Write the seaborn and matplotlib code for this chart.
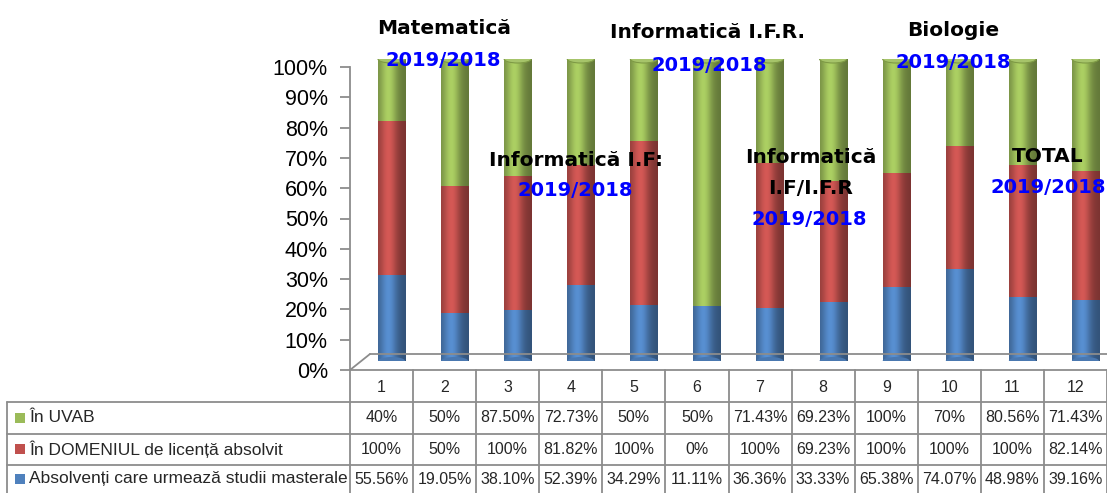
import numpy as np
import pandas as pd
import matplotlib
matplotlib.use("Agg")
import matplotlib.pyplot as plt
import matplotlib.transforms as mtransforms
from matplotlib.patches import Ellipse, Rectangle
from matplotlib.lines import Line2D
import seaborn as sns

# ---------------- data ----------------
categories = ["1", "2", "3", "4", "5", "6", "7", "8", "9", "10", "11", "12"]
series_names = ["În UVAB", "În DOMENIUL de licență absolvit",
                "Absolvenți care urmează studii masterale"]
in_uvab = [40, 50, 87.50, 72.73, 50, 50, 71.43, 69.23, 100, 70, 80.56, 71.43]
in_domeniu = [100, 50, 100, 81.82, 100, 0, 100, 69.23, 100, 100, 100, 82.14]
masterale = [55.56, 19.05, 38.10, 52.39, 34.29, 11.11, 36.36, 33.33, 65.38, 74.07, 48.98, 39.16]
y_ticks = [0, 10, 20, 30, 40, 50, 60, 70, 80, 90, 100]
annot_titles = ["Matematică", "Informatică I.F.R.", "Informatică I.F:",
                "Informatică\nI.F/I.F.R", "Biologie", "TOTAL"]
annot_year = "2019/2018"

GREEN = "#9BBB59"
RED = "#C0504D"
BLUE = "#4F81BD"
GRID = "#8C8C8C"

df = pd.DataFrame({"cat": categories, "uvab": in_uvab,
                   "dom": in_domeniu, "mast": masterale})
tot = df["uvab"] + df["dom"] + df["mast"]
df["top_blue"] = df["mast"] / tot
df["top_red"] = (df["mast"] + df["dom"]) / tot
df["top_green"] = 1.0

W, H = 1107, 493
fig = plt.figure(figsize=(W / 100, H / 100), dpi=100)
sns.set_style("white")
plt.rcParams["font.family"] = ["Liberation Sans", "DejaVu Sans"]

def fy(py):
    return 1 - py / H

# axis frame (ticks, spine, floor)
ax_axis = fig.add_axes([350 / W, fy(370), 757 / W, 303 / H])
ax_axis.set_xlim(-0.5, len(categories) - 0.5)
ax_axis.set_ylim(0, 1)
ax_axis.set_facecolor("none")
for s in ["top", "right", "bottom"]:
    ax_axis.spines[s].set_visible(False)
ax_axis.spines["left"].set_color(GRID)
ax_axis.spines["left"].set_linewidth(1.3)
ax_axis.set_yticks([t / 100 for t in y_ticks])
ax_axis.set_yticklabels([f"{t}%" for t in y_ticks], fontsize=15.5, color="black")
ax_axis.tick_params(axis="y", length=7, width=1.3, color=GRID, pad=9, left=True)
ax_axis.set_xticks([])

# floor (3D base)
floor_lines = [((350, 370), (370, 354)), ((370, 354), (1107, 354)), ((350, 370), (1107, 370))]
for (a, b) in floor_lines:
    fig.add_artist(Line2D([a[0] / W, b[0] / W], [fy(a[1]), fy(b[1])],
                          color=GRID, lw=1.3, transform=fig.transFigure))

# bars axes (offset for depth)
ax_b = fig.add_axes([360 / W, fy(361), 757 / W, 302 / H])
ax_b.set_facecolor("none")
for col, c in [("top_green", GREEN), ("top_red", RED), ("top_blue", BLUE)]:
    sns.barplot(data=df, x="cat", y=col, color=c, saturation=1, width=0.43,
                ax=ax_b, linewidth=0, order=categories)

def shade(rgb, profile):
    rgb = np.array(matplotlib.colors.to_rgb(rgb))
    out = np.clip(rgb[None, :] * profile[:, None], 0, 1)
    return np.concatenate([out, np.ones((len(profile), 1))], axis=1)[None, :, :]

xs = np.linspace(0, 1, 60)
profile = 0.72 + 0.42 * np.exp(-((xs - 0.38) / 0.3) ** 2) - 0.08 * xs
patches = list(ax_b.patches)
ell_h = 8 / 302
n = len(categories)
for p in patches:
    x0, y0 = p.get_x(), p.get_y()
    w, h = p.get_width(), p.get_height()
    if h <= 0:
        continue
    fc = p.get_facecolor()
    im = ax_b.imshow(shade(fc[:3], profile), extent=(x0, x0 + w, y0, y0 + h),
                     aspect="auto", interpolation="bilinear", zorder=p.get_zorder() + 0.1)
    im.set_clip_path(p)

green_patches = patches[:n]
blue_patches = patches[2 * n:3 * n]
for p in blue_patches:
    x0, w = p.get_x(), p.get_width()
    e = Ellipse((x0 + w / 2, 0), w, ell_h, facecolor="#4A78B0", edgecolor="none", zorder=3)
    ax_b.add_patch(e)
for p in green_patches:
    x0, w, h = p.get_x(), p.get_width(), p.get_height()
    e = Ellipse((x0 + w / 2, h), w, ell_h, facecolor="#A6C46A", edgecolor="#7E9A45",
                lw=0.8, zorder=4)
    ax_b.add_patch(e)

ax_b.set_xlim(-0.5, n - 0.5)
ax_b.set_ylim(0, 1)
ax_b.axis("off")

# ---------------- data table ----------------
tr = mtransforms.blended_transform_factory(ax_axis.transData, fig.transFigure)
row_lines = [402, 434, 465]
for yl in row_lines:
    fig.add_artist(Line2D([7 / W, 1107 / W], [fy(yl), fy(yl)], color=GRID, lw=1.3,
                          transform=fig.transFigure))
fig.add_artist(Line2D([7 / W, 7 / W], [fy(402), fy(493)], color=GRID, lw=1.3,
                      transform=fig.transFigure))
for k in range(n + 1):
    xk = k - 0.5
    ax_axis.add_artist(Line2D([xk, xk], [fy(370), fy(493)], color=GRID, lw=1.3,
                              transform=tr, clip_on=False))

def fmt(v):
    return f"{int(v)}%" if float(v).is_integer() else f"{v:.2f}%"

row_centers = [387, 418, 449, 479]
for i, c in enumerate(categories):
    ax_axis.text(i, fy(row_centers[0]), c, transform=tr, ha="center", va="center",
                 fontsize=11.5, clip_on=False)
rows = [(series_names[0], in_uvab, GREEN), (series_names[1], in_domeniu, RED),
        (series_names[2], masterale, BLUE)]
for r, (name, vals, col) in enumerate(rows):
    yc = row_centers[r + 1]
    for i, v in enumerate(vals):
        ax_axis.text(i, fy(yc), fmt(v), transform=tr, ha="center", va="center",
                     fontsize=11.5, clip_on=False)
    fig.add_artist(Rectangle((15 / W, fy(yc + 5)), 10 / W, 10 / H, facecolor=col,
                             edgecolor="none", transform=fig.transFigure))
    fig.text(29 / W, fy(yc), name, ha="left", va="center", fontsize=12.5)

# ---------------- annotations ----------------
title_pos = [(444, 28), (708, 32), (576, 160), (811, 173), (953, 30), (1048, 157)]
year_pos = [(443, 60), (709, 65), (575, 191), (809, 220), (953, 62), (1048, 188)]
for t, (x, y) in zip(annot_titles, title_pos):
    fig.text(x / W, fy(y), t, ha="center", va="center", fontsize=14.5,
             fontweight="bold", family="DejaVu Sans", linespacing=1.75, color="black")
for (x, y) in year_pos:
    fig.text(x / W, fy(y), annot_year, ha="center", va="center", fontsize=14,
             fontweight="bold", family="DejaVu Sans", color="#0000FF", zorder=10)

fig.savefig("out.png", dpi=100)
